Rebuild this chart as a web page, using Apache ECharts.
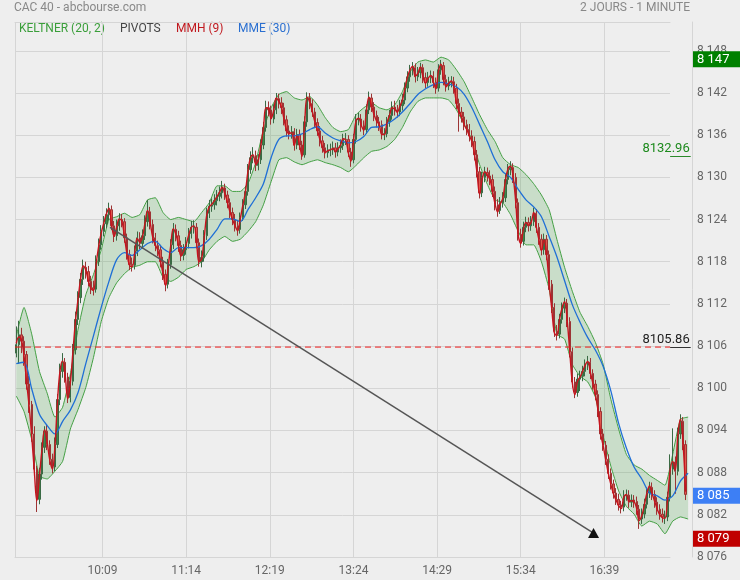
<!DOCTYPE html>
<html><head><meta charset="utf-8">
<script src="https://cdn.jsdelivr.net/npm/echarts@6/dist/echarts.min.js"></script>
<style>html,body{margin:0;padding:0;background:#eeeeee}#c{width:740px;height:580px}</style>
</head><body><div id="c"></div>
<script>
// minutes after 9:00 of first candle, and candle length (min)
const candleStart = 2, candleStep = 2;
// [open, close, low, high]
const candles = [
[8105.0,8106.2,8104.4,8108.8],[8106.2,8107.6,8103.5,8109.6],[8107.6,8106.7,8105.0,8108.6],[8106.7,8104.8,8103.2,8107.4],[8104.8,8100.6,8099.8,8105.3],
[8100.6,8097.7,8096.5,8101.8],[8097.7,8093.5,8092.4,8098.2],[8093.5,8088.5,8087.6,8094.6],[8088.5,8084.2,8082.4,8089.0],[8084.2,8087.8,8083.5,8088.7],
[8087.8,8091.6,8087.0,8092.3],[8091.6,8093.9,8090.8,8094.6],[8093.9,8092.0,8091.2,8094.8],[8092.0,8089.9,8089.1,8092.6],[8089.9,8088.8,8087.9,8090.7],
[8088.8,8092.0,8088.2,8093.0],[8092.0,8098.4,8091.5,8099.2],[8098.4,8102.4,8097.6,8103.5],[8102.4,8103.7,8101.5,8105.0],[8103.7,8101.6,8100.8,8104.3],
[8101.6,8098.7,8097.9,8102.2],[8098.7,8101.0,8098.0,8102.0],[8101.0,8105.5,8100.4,8106.3],[8105.5,8109.8,8104.8,8110.9],[8109.8,8112.9,8109.0,8113.8],
[8112.9,8115.5,8112.1,8116.4],[8115.5,8117.2,8114.7,8118.3],[8117.2,8116.6,8115.6,8118.0],[8116.6,8115.2,8114.5,8117.4],[8115.2,8114.3,8113.4,8116.0],
[8114.3,8114.1,8113.2,8115.3],[8114.1,8118.0,8113.6,8118.9],[8118.0,8120.4,8117.4,8121.3],[8120.4,8122.3,8119.7,8123.2],[8122.3,8123.4,8121.6,8124.5],
[8123.4,8124.7,8122.8,8125.6],[8124.7,8125.4,8123.9,8126.4],[8125.4,8123.1,8122.5,8126.0],[8123.1,8121.7,8120.8,8123.8],[8121.7,8123.1,8121.0,8124.0],
[8123.1,8124.0,8122.4,8124.9],[8124.0,8123.7,8122.9,8124.8],[8123.7,8121.4,8120.7,8124.2],[8121.4,8119.0,8118.3,8122.0],[8119.0,8117.6,8116.8,8119.7],
[8117.6,8117.5,8116.6,8118.6],[8117.5,8119.5,8116.9,8120.3],[8119.5,8121.4,8118.8,8122.3],[8121.4,8120.6,8119.8,8122.2],[8120.6,8121.7,8119.9,8122.6],
[8121.7,8123.7,8121.1,8124.6],[8123.7,8125.1,8123.0,8126.8],[8125.1,8123.3,8122.6,8125.8],[8123.3,8121.4,8120.6,8124.0],[8121.4,8120.3,8119.5,8122.1],
[8120.3,8119.7,8118.8,8121.0],[8119.7,8118.0,8117.2,8120.4],[8118.0,8116.2,8115.4,8118.7],[8116.2,8114.8,8113.8,8116.9],[8114.8,8117.6,8114.2,8118.4],
[8117.6,8120.4,8117.0,8121.2],[8120.4,8122.6,8119.8,8123.5],[8122.6,8121.7,8120.9,8123.3],[8121.7,8120.3,8119.4,8122.4],[8120.3,8118.9,8118.1,8121.0],
[8118.9,8119.7,8118.2,8120.5],[8119.7,8120.6,8119.0,8121.5],[8120.6,8122.0,8119.9,8122.8],[8122.0,8122.9,8121.3,8123.8],[8122.9,8122.9,8122.0,8123.9],
[8122.9,8120.7,8119.9,8123.5],[8120.7,8118.0,8117.3,8121.3],[8118.0,8118.6,8117.2,8119.6],[8118.6,8121.7,8118.0,8122.5],[8121.7,8124.9,8121.1,8125.7],
[8124.9,8125.9,8124.2,8126.8],[8125.9,8126.1,8125.1,8127.0],[8126.1,8126.7,8125.4,8127.6],[8126.7,8127.3,8126.0,8128.2],[8127.3,8127.8,8126.6,8128.7],
[8127.8,8128.5,8127.0,8129.5],[8128.5,8127.5,8126.8,8129.1],[8127.5,8126.4,8125.6,8128.1],[8126.4,8125.0,8124.2,8127.0],[8125.0,8124.0,8123.2,8125.7],
[8124.0,8123.1,8122.3,8124.8],[8123.1,8122.6,8121.7,8123.9],[8122.6,8124.3,8122.0,8125.0],[8124.3,8126.1,8123.8,8126.9],[8126.1,8128.0,8125.5,8128.8],
[8128.0,8131.1,8127.4,8131.9],[8131.1,8132.8,8130.5,8133.7],[8132.8,8133.1,8132.0,8134.3],[8133.1,8131.7,8130.9,8133.8],[8131.7,8132.5,8131.0,8133.3],
[8132.5,8134.6,8131.9,8135.4],[8134.6,8137.1,8134.0,8137.9],[8137.1,8139.9,8136.5,8140.9],[8139.9,8139.6,8138.7,8140.8],[8139.6,8138.3,8137.5,8140.2],
[8138.3,8139.6,8137.7,8140.4],[8139.6,8141.2,8139.0,8142.0],[8141.2,8140.6,8139.8,8141.9],[8140.6,8139.9,8139.0,8141.4],[8139.9,8138.2,8137.4,8140.6],
[8138.2,8136.6,8135.8,8138.8],[8136.6,8136.3,8135.4,8137.4],[8136.3,8136.5,8135.5,8137.3],[8136.5,8134.6,8133.8,8137.0],[8134.6,8136.1,8134.0,8136.9],
[8136.1,8134.6,8133.9,8136.8],[8134.6,8133.2,8132.5,8135.2],[8133.2,8137.9,8132.8,8138.7],[8137.9,8141.3,8137.2,8142.1],[8141.3,8140.5,8139.7,8142.0],
[8140.5,8139.3,8138.6,8141.1],[8139.3,8137.8,8137.0,8139.9],[8137.8,8136.6,8135.9,8138.4],[8136.6,8135.2,8134.4,8137.3],[8135.2,8134.2,8133.5,8135.9],
[8134.2,8133.5,8132.7,8134.9],[8133.5,8133.9,8132.8,8134.7],[8133.9,8133.9,8133.0,8134.8],[8133.9,8134.2,8133.2,8135.1],[8134.2,8133.6,8132.8,8134.9],
[8133.6,8134.2,8133.0,8135.0],[8134.2,8134.5,8133.5,8135.4],[8134.5,8135.4,8133.9,8136.2],[8135.4,8135.4,8134.6,8136.3],[8135.4,8133.6,8132.9,8136.0],
[8133.6,8132.5,8131.5,8134.2],[8132.5,8135.4,8132.0,8136.2],[8135.4,8138.2,8134.8,8139.0],[8138.2,8138.3,8137.4,8139.2],[8138.3,8137.3,8136.5,8139.0],
[8137.3,8136.8,8136.0,8138.1],[8136.8,8139.6,8136.2,8140.4],[8139.6,8141.3,8139.0,8142.2],[8141.3,8140.0,8139.3,8141.9],[8140.0,8138.8,8138.0,8140.7],
[8138.8,8137.9,8137.1,8139.5],[8137.9,8137.5,8136.6,8138.6],[8137.5,8136.2,8135.4,8138.1],[8136.2,8136.2,8135.3,8137.0],[8136.2,8137.9,8135.7,8138.6],
[8137.9,8138.8,8137.2,8139.6],[8138.8,8140.0,8138.2,8140.8],[8140.0,8139.6,8138.8,8140.9],[8139.6,8139.3,8138.5,8140.3],[8139.3,8140.2,8138.7,8141.0],
[8140.2,8141.0,8139.5,8141.9],[8141.0,8142.7,8140.4,8143.5],[8142.7,8144.3,8142.1,8145.1],[8144.3,8145.2,8143.6,8146.0],[8145.2,8145.6,8144.5,8146.4],
[8145.6,8144.3,8143.5,8146.2],[8144.3,8144.9,8143.7,8145.7],[8144.9,8145.6,8144.1,8146.3],[8145.6,8144.2,8143.4,8146.1],[8144.2,8143.5,8142.7,8144.9],
[8143.5,8144.2,8142.9,8145.0],[8144.2,8144.4,8143.4,8145.2],[8144.4,8143.5,8142.7,8145.1],[8143.5,8142.7,8141.9,8144.2],[8142.7,8145.3,8142.2,8146.1],
[8145.3,8145.9,8144.6,8146.7],[8145.9,8143.9,8143.1,8146.4],[8143.9,8143.0,8142.2,8144.6],[8143.0,8143.5,8142.4,8144.3],[8143.5,8143.6,8142.8,8144.4],
[8143.6,8142.7,8141.9,8144.3],[8142.7,8140.5,8139.7,8143.3],[8140.5,8139.3,8136.5,8141.2],[8139.3,8138.6,8137.8,8140.0],[8138.6,8137.5,8136.7,8139.3],
[8137.5,8136.8,8136.0,8138.2],[8136.8,8135.9,8135.1,8137.6],[8135.9,8135.1,8134.3,8136.7],[8135.1,8133.2,8132.4,8135.8],[8133.2,8130.8,8130.0,8133.9],
[8130.8,8127.8,8127.0,8131.5],[8127.8,8130.0,8127.2,8130.8],[8130.0,8130.7,8129.3,8131.5],[8130.7,8130.2,8129.4,8131.4],[8130.2,8129.7,8128.9,8131.0],
[8129.7,8128.0,8127.2,8130.4],[8128.0,8126.1,8125.3,8128.7],[8126.1,8125.3,8124.4,8126.9],[8125.3,8126.4,8124.8,8127.2],[8126.4,8127.1,8125.7,8127.9],
[8127.1,8129.7,8126.5,8130.5],[8129.7,8131.1,8129.0,8131.9],[8131.1,8131.4,8130.3,8132.3],[8131.4,8130.0,8129.2,8132.0],[8130.0,8126.4,8125.6,8130.6],
[8126.4,8121.9,8121.0,8127.0],[8121.9,8120.9,8120.0,8122.7],[8120.9,8122.9,8120.3,8123.7],[8122.9,8123.6,8122.2,8124.4],[8123.6,8123.1,8122.3,8124.3],
[8123.1,8123.7,8122.4,8124.5],[8123.7,8124.9,8123.1,8125.7],[8124.9,8122.9,8122.1,8125.5],[8122.9,8121.2,8120.4,8123.5],[8121.2,8119.7,8118.9,8121.9],
[8119.7,8121.2,8119.0,8122.0],[8121.2,8119.0,8118.2,8121.8],[8119.0,8114.8,8114.0,8119.6],[8114.8,8111.5,8110.7,8115.4],[8111.5,8108.1,8107.3,8112.1],
[8108.1,8107.7,8106.8,8109.0],[8107.7,8109.8,8107.1,8110.6],[8109.8,8111.4,8109.2,8112.2],[8111.4,8112.1,8110.7,8112.9],[8112.1,8109.5,8108.7,8112.7],
[8109.5,8105.2,8104.4,8110.1],[8105.2,8100.9,8100.1,8105.8],[8100.9,8099.4,8098.6,8101.6],[8099.4,8101.3,8098.8,8102.1],[8101.3,8101.7,8099.6,8102.5],
[8101.7,8102.4,8101.0,8103.2],[8102.4,8103.3,8101.7,8104.1],[8103.3,8103.7,8102.6,8104.6],[8103.7,8102.1,8101.3,8104.3],[8102.1,8100.6,8099.8,8102.7],
[8100.6,8099.1,8098.3,8101.2],[8099.1,8096.7,8095.9,8099.7],[8096.7,8093.5,8092.7,8097.3],[8093.5,8091.9,8091.1,8094.2],[8091.9,8089.9,8089.1,8092.5],
[8089.9,8087.9,8087.1,8090.6],[8087.9,8086.4,8085.6,8088.6],[8086.4,8085.1,8084.3,8087.0],[8085.1,8084.2,8083.4,8085.8],[8084.2,8083.4,8082.6,8085.0],
[8083.4,8083.1,8082.2,8084.0],[8083.1,8084.7,8082.5,8085.5],[8084.7,8084.8,8084.0,8085.6],[8084.8,8083.8,8083.0,8085.5],[8083.8,8084.1,8083.1,8084.9],
[8084.1,8083.9,8083.0,8084.8],[8083.9,8082.8,8082.0,8084.6],[8082.8,8081.4,8080.0,8083.4],[8081.4,8082.1,8080.7,8082.9],[8082.1,8083.5,8081.5,8084.3],
[8083.5,8085.1,8082.9,8085.9],[8085.1,8085.9,8084.4,8086.7],[8085.9,8084.9,8084.1,8086.6],[8084.9,8083.8,8083.0,8085.5],[8083.8,8082.8,8082.0,8084.5],
[8082.8,8082.1,8081.3,8083.5],[8082.1,8081.7,8080.9,8082.9],[8081.7,8081.7,8080.7,8082.6],[8081.7,8084.5,8081.1,8085.3],[8084.5,8088.5,8083.9,8090.6],
[8088.5,8089.5,8087.7,8094.3],[8089.5,8088.2,8085.0,8090.3],[8088.2,8093.5,8087.6,8094.4],[8093.5,8095.3,8092.8,8096.3],[8095.3,8092.0,8091.2,8095.9],
[8092.0,8084.9,8084.1,8092.6]
];
// MMH (9) read at every candle
const hma = [
8106.4,8107.3,8106.9,8104.6,8100.9,8097.4,8093.2,8088.2,8084.0,8087.5,
8091.4,8094.1,8092.3,8089.8,8088.5,8091.7,8098.1,8102.5,8103.9,8101.8,
8098.5,8100.8,8105.2,8109.6,8112.7,8115.6,8117.4,8116.8,8115.3,8114.2,
8113.9,8117.6,8120.2,8122.1,8123.5,8124.8,8125.6,8123.4,8121.6,8122.9,
8124.1,8123.8,8121.6,8119.1,8117.5,8117.3,8119.3,8121.3,8120.8,8121.5,
8123.5,8125.3,8123.6,8121.5,8120.4,8119.6,8118.1,8116.3,8114.6,8117.3,
8120.3,8122.7,8121.9,8120.4,8118.8,8119.5,8120.5,8121.8,8122.9,8123.1,
8120.9,8118.0,8118.4,8121.4,8124.7,8125.8,8126.2,8126.7,8127.3,8127.9,
8128.6,8127.7,8126.5,8125.1,8124.0,8123.1,8122.4,8124.1,8126.0,8127.9,
8130.9,8132.8,8133.2,8131.9,8132.4,8134.5,8137.0,8139.9,8139.8,8138.4,
8139.5,8141.3,8140.8,8140.0,8138.3,8136.7,8136.2,8136.4,8134.5,8135.9,
8134.7,8133.0,8137.6,8141.4,8140.7,8139.4,8137.9,8136.7,8135.3,8134.3,
8133.5,8133.8,8133.9,8134.1,8133.7,8134.1,8134.6,8135.5,8135.3,8133.5,
8132.3,8135.2,8138.1,8138.4,8137.4,8136.7,8139.4,8141.4,8140.2,8138.9,
8138.0,8137.5,8136.1,8136.1,8137.8,8138.8,8139.9,8139.7,8139.3,8140.1,
8141.0,8142.7,8144.3,8145.3,8145.8,8144.4,8144.8,8145.7,8144.3,8143.4,
8144.1,8144.5,8143.6,8142.6,8145.1,8146.1,8144.0,8142.9,8143.4,8143.7,
8142.8,8140.6,8139.3,8138.6,8137.5,8136.8,8135.9,8135.1,8133.3,8130.6,
8127.6,8129.8,8130.8,8130.3,8129.7,8128.1,8126.2,8125.1,8126.2,8127.0,
8129.5,8131.2,8131.6,8130.1,8126.6,8121.8,8120.6,8122.6,8123.6,8123.2,
8123.6,8125.0,8123.0,8121.2,8119.6,8121.1,8119.1,8114.9,8111.4,8107.9,
8107.5,8109.7,8111.4,8112.3,8109.7,8105.3,8100.8,8099.1,8101.0,8101.6,
8102.4,8103.3,8103.8,8102.3,8100.7,8099.1,8096.8,8093.6,8091.8,8089.8,
8087.9,8086.3,8085.0,8084.1,8083.3,8082.9,8084.5,8084.9,8083.9,8084.0,
8083.9,8082.9,8081.2,8081.9,8083.4,8085.1,8086.1,8085.0,8083.9,8082.8,
8082.0,8081.6,8081.5,8084.2,8088.3,8089.6,8088.4,8093.3,8095.6,8092.3,
8085.3
];
// Keltner band and MME (30), read every 6 minutes
const bandStart = 2, bandStep = 6;
const kUpper = [
8107.4,8111.5,8107.7,8102.4,8099.3,8095.9,8097.3,8102.0,8108.4,8113.3,
8116.2,8119.7,8124.0,8124.4,8124.9,8124.3,8124.7,8126.8,8127.1,8125.0,
8124.0,8124.3,8124.0,8123.7,8125.0,8126.4,8128.8,8128.8,8128.0,8128.0,
8129.1,8132.1,8136.8,8139.9,8141.8,8142.2,8141.3,8141.0,8141.5,8140.3,
8138.5,8137.1,8136.5,8136.8,8138.9,8139.9,8140.6,8139.9,8139.6,8140.3,
8142.2,8145.0,8146.4,8146.7,8146.4,8147.1,8146.7,8145.3,8143.6,8141.3,
8138.9,8136.8,8135.1,8132.8,8131.8,8131.4,8130.4,8129.1,8127.5,8125.4,
8121.2,8117.2,8113.8,8110.8,8108.8,8106.5,8103.4,8098.4,8094.2,8090.6,
8089.1,8088.5,8087.6,8086.9,8086.2,8090.6,8095.6,8095.9
];
const kLower = [
8098.9,8096.7,8092.7,8087.5,8087.1,8088.2,8089.6,8094.2,8097.0,8100.1,
8104.4,8109.5,8112.9,8115.0,8116.3,8117.2,8117.5,8118.0,8118.0,8115.8,
8115.2,8115.8,8116.9,8117.3,8118.0,8119.7,8120.9,8121.6,8120.9,8121.2,
8122.3,8123.7,8126.1,8129.4,8132.5,8132.8,8132.2,8131.8,8132.2,8132.5,
8132.1,8131.8,8131.4,8130.8,8131.7,8132.8,8133.7,8133.9,8134.4,8135.4,
8137.1,8139.3,8140.8,8141.3,8141.3,8141.3,8141.0,8139.6,8137.5,8135.4,
8131.8,8129.0,8126.8,8126.4,8124.7,8122.3,8120.4,8120.4,8118.0,8114.1,
8107.7,8107.0,8103.4,8101.7,8100.9,8098.7,8093.2,8088.9,8085.4,8083.2,
8082.1,8080.4,8081.1,8080.7,8079.3,8081.1,8081.7,8081.4
];
const ema = [
8103.5,8103.7,8099.9,8096.3,8094.7,8093.5,8095.3,8096.9,8099.4,8103.5,
8107.5,8111.5,8115.2,8118.3,8119.3,8118.9,8119.7,8120.6,8120.9,8119.9,
8119.3,8120.0,8120.0,8120.0,8120.3,8121.2,8122.6,8124.1,8124.1,8123.7,
8125.4,8127.1,8129.1,8132.8,8135.4,8135.9,8135.9,8136.2,8136.8,8137.2,
8136.3,8135.6,8135.2,8134.9,8135.1,8135.8,8137.1,8137.2,8137.6,8138.3,
8139.3,8140.5,8141.8,8142.6,8143.2,8143.5,8143.3,8142.9,8141.8,8139.9,
8137.5,8135.1,8132.5,8130.8,8130.0,8128.3,8126.8,8125.8,8124.4,8121.6,
8118.7,8115.3,8111.9,8109.4,8107.2,8105.4,8103.1,8099.6,8095.0,8091.5,
8088.8,8087.1,8085.1,8084.7,8084.1,8084.7,8086.8,8087.9
];
const timeTicks = ['10:09','11:14','12:19','13:24','14:29','15:34','16:39'];
const pivotLevel = 8105.86, resistLevel = 8132.96;
// trend line ends: [minutes after 9:00, price]
const trendLine = [[74.8, 8122.9], [450.5, 8079.4]];
const priceTags = [
  {value: 8146.8, text: '8 147', color: '#008000'},
  {value: 8084.7, text: '8 085', color: '#3d7ff5'},
  {value: 8078.6, text: '8 079', color: '#c00000'}
];

const lastMinute = 510, axisMaxMinute = 527;
const day0 = Date.UTC(2024, 0, 2, 9, 0, 0);
const T = m => day0 + m * 60000;
const minuteLabels = [];
for (let m = 1; m <= lastMinute; m++) {
  const t = 540 + m;
  minuteLabels.push(Math.floor(t / 60) + ':' + String(t % 60).padStart(2, '0'));
}
const candleData = candles.map((c, i) => [T(candleStart + candleStep * i), c[0], c[1], c[2], c[3]]);
const hmaData = hma.map((v, i) => [T(candleStart + candleStep * i), v]);
const lowerData = kLower.map((v, i) => [T(bandStart + bandStep * i), v]);
const widthData = kUpper.map((v, i) => [T(bandStart + bandStep * i), +(v - kLower[i]).toFixed(2)]);
const emaData = ema.map((v, i) => [T(bandStart + bandStep * i), v]);
const trendData = trendLine.map(p => [T(p[0]), p[1]]);
const fmt = v => String(v).replace(/\B(?=(\d{3})+(?!\d))/g, ' ');
const gridColor = '#d5d5d5';

const chart = echarts.init(document.getElementById('c'), null, {renderer: 'canvas'});
chart.setOption({
  animation: false,
  backgroundColor: '#eeeeee',
  textStyle: {fontFamily: 'Roboto'},
  grid: [
    {left: 15, right: 48, top: 22, bottom: 23},
    {left: 15, right: 70, top: 22, bottom: 23}
  ],
  xAxis: [
    {type: 'time', gridIndex: 0, min: T(1), max: T(axisMaxMinute), show: false},
    {type: 'category', gridIndex: 1, data: minuteLabels, boundaryGap: false,
     axisLine: {show: true, lineStyle: {color: gridColor}},
     axisTick: {show: false},
     axisLabel: {color: '#666', fontSize: 12, margin: 8,
       interval: (i, v) => timeTicks.includes(v)},
     splitLine: {show: true, lineStyle: {color: gridColor},
       interval: (i, v) => i === 0 || timeTicks.includes(v)}},
    {type: 'category', gridIndex: 1, position: 'top', data: minuteLabels, boundaryGap: false,
     axisLine: {show: true, lineStyle: {color: gridColor}},
     axisTick: {show: false}, axisLabel: {show: false}, splitLine: {show: false}}
  ],
  yAxis: [
    {type: 'value', gridIndex: 0, position: 'right', min: 8076, max: 8152.1, interval: 6,
     axisLine: {show: true, lineStyle: {color: gridColor}},
     axisTick: {show: false}, splitLine: {show: false},
     axisLabel: {color: '#666', fontSize: 12, margin: 5, padding: [0, 0, 7, 0], formatter: fmt,
       showMaxLabel: false}},
    {type: 'value', gridIndex: 1, min: 8076, max: 8152.1, interval: 6,
     axisLine: {show: false}, axisTick: {show: false}, axisLabel: {show: false},
     splitLine: {show: true, lineStyle: {color: gridColor}}}
  ],
  series: [
    {name: 'KELTNER (20, 2)', type: 'line', xAxisIndex: 0, yAxisIndex: 0, data: lowerData,
     stack: 'keltner', symbol: 'none', smooth: 0.15, z: 1,
     lineStyle: {color: '#44a044', width: 1}},
    {name: 'KELTNER (20, 2) haut', type: 'line', xAxisIndex: 0, yAxisIndex: 0, data: widthData,
     stack: 'keltner', symbol: 'none', smooth: 0.15, z: 1,
     lineStyle: {color: '#44a044', width: 1},
     areaStyle: {color: 'rgba(60,155,60,0.29)'}},
    {name: 'CAC 40', type: 'candlestick', xAxisIndex: 0, yAxisIndex: 0, data: candleData,
     encode: {x: 0, y: [1, 2, 3, 4]}, barWidth: 1.8, z: 2,
     itemStyle: {color: '#3b8a4a', color0: '#e0594e', borderColor: '#3a6a44', borderColor0: '#9c3434', borderWidth: 1},
     markLine: {
       silent: true, symbol: ['none', 'none'], animation: false,
       data: priceTags.map(t => ({
         yAxis: t.value,
         lineStyle: {color: 'rgba(0,0,0,0)', width: 0},
         label: {show: true, position: 'end', formatter: t.text, color: '#fff', fontSize: 13,
           backgroundColor: t.color, padding: [2, 13, 1, 4], distance: 1}
       }))
     }},
    {name: 'MME (30)', type: 'line', xAxisIndex: 0, yAxisIndex: 0, data: emaData, symbol: 'none',
     smooth: 0.3, z: 3, lineStyle: {color: '#1f6fd6', width: 1.3}},
    {name: 'MMH (9)', type: 'line', xAxisIndex: 0, yAxisIndex: 0, data: hmaData, symbol: 'none',
     smooth: 0.4, z: 4, lineStyle: {color: '#c8141e', width: 1.4}},
    {name: 'PIVOTS', type: 'line', xAxisIndex: 0, yAxisIndex: 0,
     data: [[T(1), pivotLevel], [T(lastMinute), pivotLevel]], symbol: 'none', z: 5,
     lineStyle: {color: '#ee1c1c', type: [6, 4], width: 1},
     markLine: {
       silent: true, symbol: ['none', 'none'], animation: false,
       data: [
         [{coord: [T(lastMinute), pivotLevel], lineStyle: {color: '#333', type: 'solid', width: 1},
           label: {show: true, position: 'insideEndTop', formatter: '8105.86', color: '#222', fontSize: 13, distance: 1}},
          {coord: [T(axisMaxMinute - 1), pivotLevel]}],
         [{coord: [T(lastMinute), resistLevel], lineStyle: {color: '#2a8a2a', type: 'solid', width: 1},
           label: {show: true, position: 'insideEndTop', formatter: '8132.96', color: '#1d8a1d', fontSize: 13, distance: 1}},
          {coord: [T(axisMaxMinute - 1), resistLevel]}]
       ]
     }},
    {name: 'Tendance', type: 'line', xAxisIndex: 0, yAxisIndex: 0, data: trendData, z: 6,
     symbol: (v, p) => p.dataIndex === 1 ? 'triangle' : 'none', symbolSize: [11, 10], showSymbol: true,
     itemStyle: {color: '#111'}, lineStyle: {color: '#555', width: 1.5}}
  ],
  graphic: [
    {type: 'text', left: 14, top: 2, style: {text: 'CAC 40 - abcbourse.com', fill: '#888', font: '12px Roboto'}},
    {type: 'text', right: 50, top: 2, style: {text: '2 JOURS - 1 MINUTE', fill: '#888', font: '12px Roboto'}},
    {type: 'text', left: 19, top: 23, style: {text: 'KELTNER (20, 2)', fill: '#3a9e3a', font: '12px Roboto'}},
    {type: 'text', left: 120, top: 23, style: {text: 'PIVOTS', fill: '#444', font: '12px Roboto'}},
    {type: 'text', left: 176, top: 23, style: {text: 'MMH (9)', fill: '#c0181e', font: '12px Roboto'}},
    {type: 'text', left: 238, top: 23, style: {text: 'MME (30)', fill: '#2a6fd0', font: '12px Roboto'}}
  ]
});
</script></body></html>
